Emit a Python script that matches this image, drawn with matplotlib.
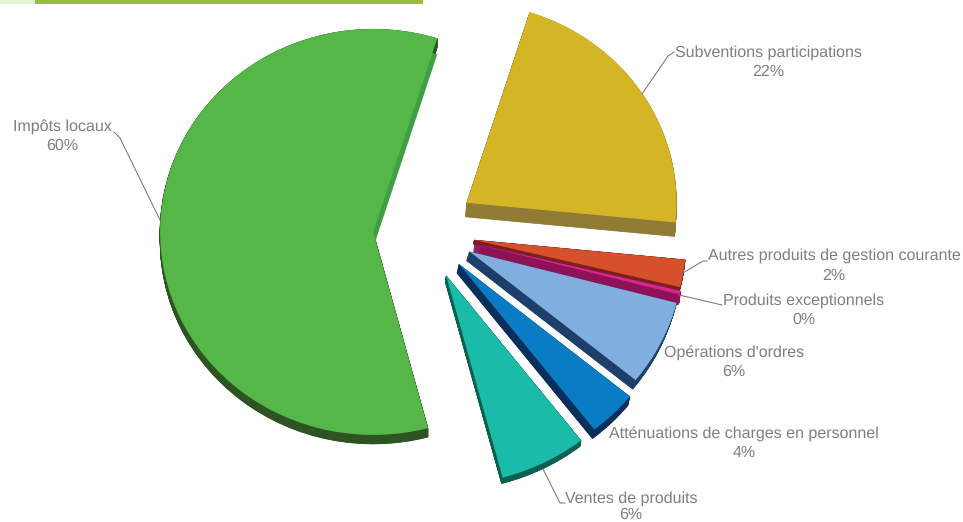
import matplotlib
matplotlib.use("Agg")
import matplotlib.pyplot as plt
from matplotlib.patches import Rectangle
from matplotlib.transforms import Affine2D

plt.rcParams['font.family'] = ['Liberation Sans', 'DejaVu Sans']
plt.rcParams['text.hinting'] = 'no_hinting'
plt.rcParams['text.hinting_factor'] = 1

# ---- data ----
categories = ["Subventions participations", "Autres produits de gestion courante",
              "Produits exceptionnels", "Opérations d'ordres",
              "Atténuations de charges en personnel", "Ventes de produits", "Impôts locaux"]
shares = [21.7, 2.2, 0.3, 6.8, 3.6, 6.4, 59.0]
percent_labels = ["22%", "2%", "0%", "6%", "4%", "6%", "60%"]

# ---- style ----
W, H = 963, 522
top_colors = ["#D4B526", "#D6502B", "#D9258D", "#7FAEDF", "#0A7CC4", "#1ABBA8", "#55B748"]
side_colors = ["#8F7B33", "#7A1F22", "#8E1257", "#1F3F6B", "#0A2F5E", "#0B6052", "#2F5423"]
depths = [(-1, 14), (-1, 4), (-1, 10), (-3, 9), (-2, 9), (-1, 6), (0, 9)]
nudges = [(2, -4), (2, -1), (3, -1), (2, -3), (1, -3), (1, 0), (0, 0)]
radii = [0.99, 1.0, 1.0, 1.01, 1.04, 1.035, 1.005]
explode = [0.235] * 7
CX, CY, RX, RY = 423, 233, 212, 202
label_pos = [(768, 52), (834, 255), (804, 300), (734, 352), (744, 433), (631, 498), (62, 126)]
pct_pos = [(768, 71), (834, 275), (804, 319), (734, 371), (744, 452), (631, 514), (62, 145)]
leaders = [[(642, 94), (668, 56), (674, 52)],
           [(683, 273), (703, 261), (707, 261)],
           [(679, 295), (722, 305)],
           [(543, 469), (560, 503), (565, 503)],
           [(160, 220), (120, 138), (114, 132)]]
TXT = "#7F7F7F"

fig = plt.figure(figsize=(W / 100, H / 100), dpi=100)
ax = fig.add_axes([0, 0, 1, 1])


def draw_pie(colors, zorder):
    wedges, _ = ax.pie(shares, explode=explode, colors=colors, startangle=72.5,
                       counterclock=False, radius=1,
                       wedgeprops=dict(linewidth=0))
    for i, w in enumerate(wedges):
        w.set_zorder(zorder)
        w.set_radius(radii[i])
    return wedges


def shifted(wedge, i, px, py):
    """Move slice i by a pixel offset (py downwards)."""
    nx, ny = nudges[i]
    wedge.set_transform(ax.transData + Affine2D().translate(px + nx, -(py + ny)))


for i in range(len(shares)):
    steps = 24
    for s in range(1, steps + 1):
        wedges = draw_pie(side_colors, 2 + i * 0.1)
        for j, w in enumerate(wedges):
            if j != i:
                w.remove()
        dx, dy = depths[i]
        wedges[i].set_edgecolor(side_colors[i])
        wedges[i].set_linewidth(0.5)
        shifted(wedges[i], i, dx * s / steps, dy * s / steps)

tops = draw_pie(top_colors, 2)
for i, w in enumerate(tops):
    w.set_zorder(2.05 + i * 0.1)
    shifted(w, i, 0, 0)

# cut face of the large slice, visible along its upper edge only
cut = draw_pie(["#3EA046"] * 7, 2.62)
for j, w in enumerate(cut):
    if j != 6:
        w.remove()
c = cut[6]
c.set_theta2(c.theta1 + 60)
shifted(c, 6, 0, 16)
tops[6].set_zorder(2.65)

ax.set_aspect('auto')
ax.set_xlim(-CX / RX, (W - CX) / RX)
ax.set_ylim(-(H - CY) / RY, CY / RY)
ax.axis('off')

# overlay in pixel coordinates: header bar, leaders and labels
ov = fig.add_axes([0, 0, 1, 1], zorder=5)
ov.set_xlim(0, W)
ov.set_ylim(H, 0)
ov.axis('off')
ov.patch.set_alpha(0)
ov.add_patch(Rectangle((0, 0), 35, 4, fc="#E8F0D8", ec="none"))
ov.add_patch(Rectangle((35, 0), 388, 4, fc="#95BF3A", ec="none"))
for pts in leaders:
    ov.plot([p[0] for p in pts], [p[1] for p in pts], color="#6F6F6F", lw=0.7)
for name, pct, lp, pp in zip(categories, percent_labels, label_pos, pct_pos):
    ov.text(lp[0], lp[1] + 1, name, ha='center', va='center', color=TXT, fontsize=11.5)
    ov.text(pp[0], pp[1] + 1, pct, ha='center', va='center', color=TXT, fontsize=11.5)

fig.savefig("out.png", dpi=100)
